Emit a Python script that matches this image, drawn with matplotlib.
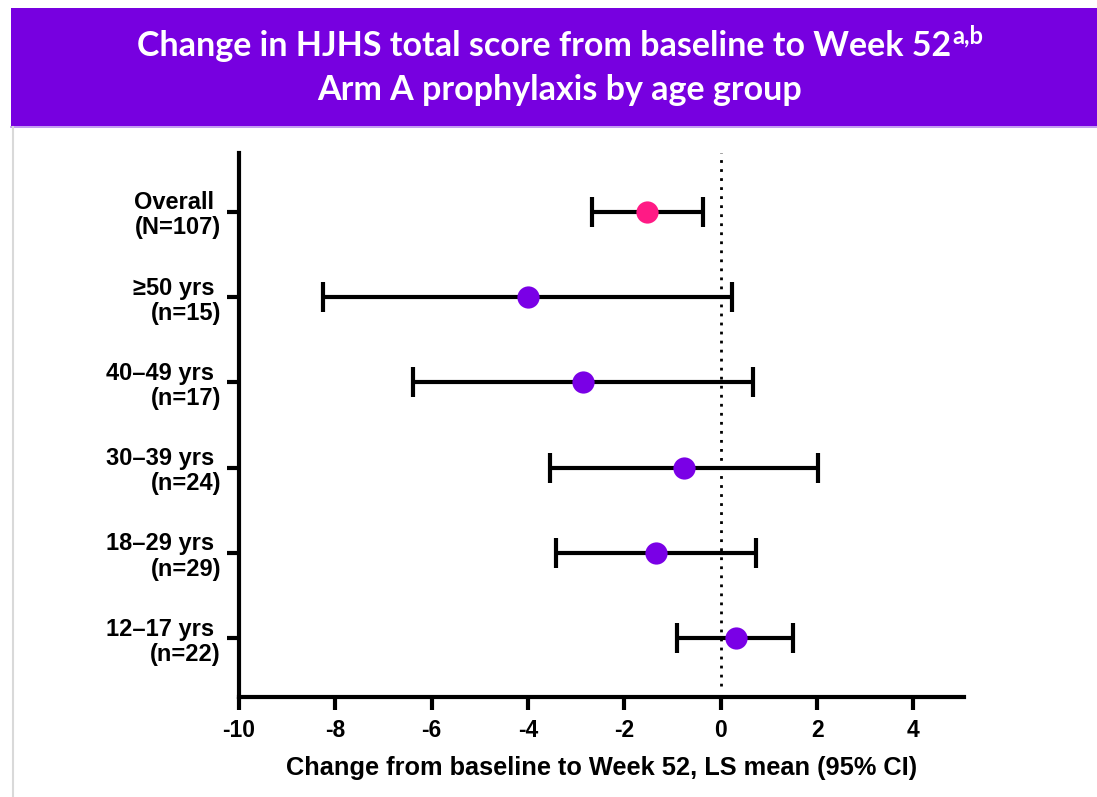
import matplotlib
matplotlib.use('Agg')
import matplotlib.pyplot as plt
from matplotlib.patches import Rectangle
from matplotlib.lines import Line2D

# Data.
groups = ['Overall \n(N=107)', '\u226550 yrs \n(n=15)', '40\u201349 yrs \n(n=17)',
          '30\u201339 yrs \n(n=24)', '18\u201329 yrs \n(n=29)', '12\u201317 yrs \n(n=22)']
ls_mean = [-1.54, -4.00, -2.85, -0.77, -1.34, 0.31]
ci_low = [-2.68, -8.25, -6.38, -3.55, -3.42, -0.91]
ci_high = [-0.37, 0.24, 0.68, 2.01, 0.74, 1.51]
colors = ['#FF1A85', '#7A00E6', '#7A00E6', '#7A00E6', '#7A00E6', '#7A00E6']
xticks = [-10, -8, -6, -4, -2, 0, 2, 4]

W, H = 1097, 797
fig = plt.figure(figsize=(W / 100, H / 100), dpi=100)
fig.patch.set_facecolor('white')

# Title band.
fig.add_artist(Rectangle((11 / W, 1 - 126 / H), (W - 11) / W, 118 / H,
                         transform=fig.transFigure, facecolor='#7700E0',
                         edgecolor='none', zorder=0))
fig.add_artist(Line2D([11 / W, 1], [1 - 126.5 / H] * 2, transform=fig.transFigure,
                      color='#B98AF0', lw=1.2))
# Slide left border.
fig.add_artist(Line2D([12.5 / W] * 2, [0, 1 - 127 / H], transform=fig.transFigure,
                      color='#D9D9D9', lw=1.5))

tfont = dict(family=['Lato', 'DejaVu Sans'], weight='bold', color='white')
cx = 560 / W
line1 = fig.text(0, 1 - 46 / H, 'Change in HJHS total score from baseline to Week 52',
                 fontsize=24.5, ha='left', va='center', **tfont)
sup = fig.text(0, 1 - 36 / H, 'a,b', fontsize=17, ha='left', va='center', **tfont)
fig.text(cx, 1 - 90 / H, 'Arm A prophylaxis by age group',
         fontsize=24.5, ha='center', va='center', **tfont)
fig.canvas.draw()
r = fig.canvas.get_renderer()
w1 = line1.get_window_extent(r).width / W
w2 = sup.get_window_extent(r).width / W
x0 = cx - (w1 + w2) / 2
line1.set_x(x0)
sup.set_x(x0 + w1 + 1 / W)

# Forest plot.
ax = fig.add_axes([239 / W, 1 - 697 / H, (964 - 239) / W, (697 - 153) / H])
ypos = list(range(len(groups) - 1, -1, -1))
ax.axvline(0, ymin=0.02, ymax=1, color='black', ls=(0, (1, 2.25)), lw=2, zorder=1)
for i, y in enumerate(ypos):
    ax.errorbar(ls_mean[i], y,
                xerr=[[ls_mean[i] - ci_low[i]], [ci_high[i] - ls_mean[i]]],
                fmt='none', ecolor='black', elinewidth=3, capsize=10.5, capthick=3,
                zorder=2)
    ax.plot(ls_mean[i], y, 'o', ms=16, color=colors[i], mec='none', zorder=3)

ax.set_xlim(-10, 5.05)
ax.set_ylim(-0.69, 5.69)
ax.set_xticks(xticks)
ax.set_xticklabels([str(t) for t in xticks])
ax.set_yticks(ypos)
ax.set_yticklabels(groups, ha='right', multialignment='right', linespacing=1.12)
for s in ['top', 'right']:
    ax.spines[s].set_visible(False)
for s in ['left', 'bottom']:
    ax.spines[s].set_linewidth(3)
ax.tick_params(width=3, length=9)
ax.tick_params(axis='x', labelsize=16.5, pad=7)
ax.tick_params(axis='y', labelsize=17, pad=4)
afont = dict(family=['Liberation Sans', 'DejaVu Sans'], weight='bold')
for lab in ax.get_xticklabels() + ax.get_yticklabels():
    lab.set_fontfamily(afont['family'])
    lab.set_fontweight('bold')
ax.set_xlabel('Change from baseline to Week 52, LS mean (95% CI)',
              fontsize=18.3, labelpad=10, **afont)

fig.savefig('out.png', dpi=100)
